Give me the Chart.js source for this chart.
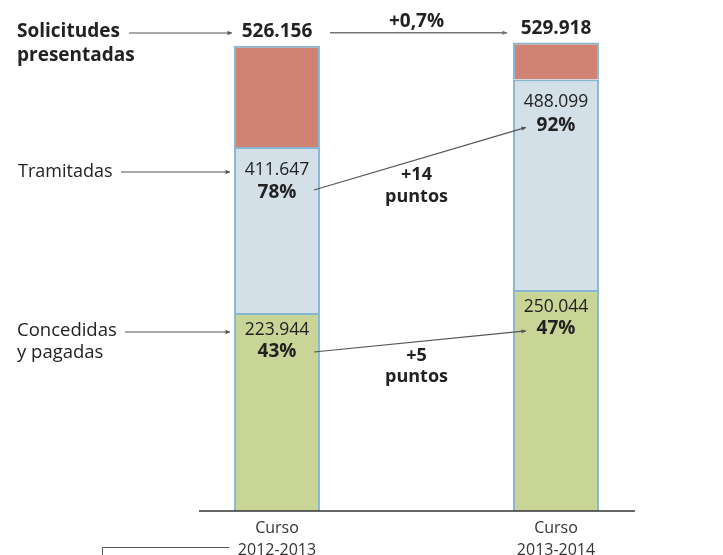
<!DOCTYPE html>
<html>
<head>
<meta charset="utf-8">
<script src="https://cdn.jsdelivr.net/npm/chart.js@4.4.0/dist/chart.umd.min.js"></script>
<style>
  html, body { margin:0; padding:0; background:#fff; }
  #chart { display:block; }
</style>
</head>
<body>
<canvas id="chart" width="723" height="555"></canvas>
<script>
// ===== datos =====
const cursos = [['Curso', '2012-2013'], ['Curso', '2013-2014']];
const presentadas = [526156, 529918];
const tramitadas = [411647, 488099];
const concedidas = [223944, 250044];
const pctTramitadas = ['78%', '92%'];
const pctConcedidas = ['43%', '47%'];
const variacionPresentadas = '+0,7%';
const difTramitadas = ['+14', 'puntos'];
const difConcedidas = ['+5', 'puntos'];

const FONT = '"Open Sans", "Noto Sans", sans-serif';
const TXT = '#222';
const LINE = '#555';

// segmentos apilados
const segVerde = concedidas.slice();
const segAzul = tramitadas.map((v, i) => v - concedidas[i]);
const segRojo = presentadas.map((v, i) => v - tramitadas[i]);

const fmt = n => String(n).replace(/\B(?=(\d{3})+(?!\d))/g, '.');

function flecha(ctx, x1, y1, x2, y2){
    ctx.beginPath();
    ctx.moveTo(x1, y1);
    ctx.lineTo(x2, y2);
    ctx.stroke();
    const a = Math.atan2(y2 - y1, x2 - x1);
    ctx.beginPath();
    ctx.moveTo(x2, y2);
    ctx.lineTo(x2 - 5*Math.cos(a - 0.45), y2 - 5*Math.sin(a - 0.45));
    ctx.lineTo(x2 - 5*Math.cos(a + 0.45), y2 - 5*Math.sin(a + 0.45));
    ctx.closePath();
    ctx.fill();
}

function texto(ctx, s, x, y, bold, size, align){
    ctx.font = (bold ? 'bold ' : '') + size + 'px ' + FONT;
    ctx.textAlign = align || 'center';
    ctx.textBaseline = 'middle';
    ctx.fillStyle = TXT;
    ctx.fillText(s, x, y);
}

// textos y flechas
const anotaciones = {
    id: 'anotaciones',
    afterDraw(chart){
        const ctx = chart.ctx;
        const ys = chart.scales.y;
        const bars = chart.getDatasetMeta(0).data;
        const cx = bars.map(b => b.x);
        const izq = bars.map(b => b.x - b.width/2);
        const der = bars.map(b => b.x + b.width/2);
        const base = ys.getPixelForValue(0);

        ctx.save();

        // linea base
        ctx.strokeStyle = '#333';
        ctx.lineWidth = 1.5;
        ctx.beginPath();
        ctx.moveTo(izq[0] - 35, base);
        ctx.lineTo(der[1] + 36, base);
        ctx.stroke();

        // etiquetas izquierda
        texto(ctx, 'Solicitudes', 17, 32, true, 19, 'left');
        texto(ctx, 'presentadas', 17, 56, true, 19, 'left');
        texto(ctx, 'Tramitadas', 18, 172, false, 18, 'left');
        texto(ctx, 'Concedidas', 17, 331, false, 18.5, 'left');
        texto(ctx, 'y pagadas', 17, 353, false, 18.5, 'left');

        ctx.strokeStyle = LINE; ctx.fillStyle = LINE; ctx.lineWidth = 1.2;
        flecha(ctx, 129, 33, izq[0] - 2, 33);
        flecha(ctx, 121, 172, izq[0] - 4, 172);
        flecha(ctx, 125, 332, izq[0] - 4, 332);

        // totales
        for (let i = 0; i < 2; i++){
            const yTop = ys.getPixelForValue(presentadas[i]);
            texto(ctx, fmt(presentadas[i]), cx[i], yTop - 14, true, 19);
            const yT = ys.getPixelForValue(tramitadas[i]);
            texto(ctx, fmt(tramitadas[i]), cx[i], yT + 23, false, 17.5);
            texto(ctx, pctTramitadas[i], cx[i], yT + 46, true, 19);
            const yC = ys.getPixelForValue(concedidas[i]);
            texto(ctx, fmt(concedidas[i]), cx[i], yC + 17, false, 17.5);
            texto(ctx, pctConcedidas[i], cx[i], yC + 39, true, 19);
        }

        // variacion presentadas
        const yTop0 = ys.getPixelForValue(presentadas[0]);
        ctx.strokeStyle = '#777'; ctx.fillStyle = '#777'; ctx.lineWidth = 1.5;
        flecha(ctx, der[0] + 10, yTop0 - 13, izq[1] - 6, yTop0 - 13);
        const mid = (der[0] + izq[1]) / 2;
        texto(ctx, variacionPresentadas, mid, yTop0 - 24, true, 19);

        // enlaces porcentajes
        ctx.strokeStyle = LINE; ctx.fillStyle = LINE; ctx.lineWidth = 1.2;
        const yT0 = ys.getPixelForValue(tramitadas[0]) + 46;
        const yT1 = ys.getPixelForValue(tramitadas[1]) + 46;
        flecha(ctx, cx[0] + 37, yT0 - 3, cx[1] - 30, yT1 + 2);
        const yC0 = ys.getPixelForValue(concedidas[0]) + 39;
        const yC1 = ys.getPixelForValue(concedidas[1]) + 39;
        flecha(ctx, cx[0] + 37, yC0, cx[1] - 30, yC1 + 2);

        texto(ctx, difTramitadas[0], mid, 175, true, 18);
        texto(ctx, difTramitadas[1], mid, 197, true, 18);
        texto(ctx, difConcedidas[0], mid, 356, true, 18);
        texto(ctx, difConcedidas[1], mid, 377, true, 18);

        // corchete inferior
        ctx.strokeStyle = LINE; ctx.lineWidth = 1;
        ctx.beginPath();
        ctx.moveTo(102.5, 556);
        ctx.lineTo(102.5, 547.5);
        ctx.lineTo(izq[0] - 5, 547.5);
        ctx.stroke();
        ctx.restore();
    }
};

const borde = '#86b6d2';
new Chart(document.getElementById('chart').getContext('2d'), {
    type: 'bar',
    data: {
        labels: cursos,
        datasets: [
            { label: 'Concedidas y pagadas', data: segVerde, backgroundColor: '#c9d597', borderColor: borde },
            { label: 'Tramitadas', data: segAzul, backgroundColor: '#d3e0e8', borderColor: borde },
            { label: 'Presentadas', data: segRojo, backgroundColor: '#d08373', borderColor: borde }
        ]
    },
    options: {
        responsive: false,
        animation: false,
        layout: { padding: { left: 137.5, right: 27.5, top: 7, bottom: 0 } },
        datasets: { bar: { barPercentage: 0.308, categoryPercentage: 1, borderWidth: 2 } },
        scales: {
            x: {
                stacked: true,
                grid: { display: false, drawTicks: false },
                border: { display: false },
                ticks: { color: '#333', padding: 7, font: { family: FONT, size: 16, lineHeight: 1.35 } },
                afterFit(scale){ scale.height = 44; }
            },
            y: { stacked: true, display: false, min: 0, max: 570000 }
        },
        plugins: { legend: { display: false }, tooltip: { enabled: false } }
    },
    plugins: [anotaciones]
});
</script>
</body>
</html>
